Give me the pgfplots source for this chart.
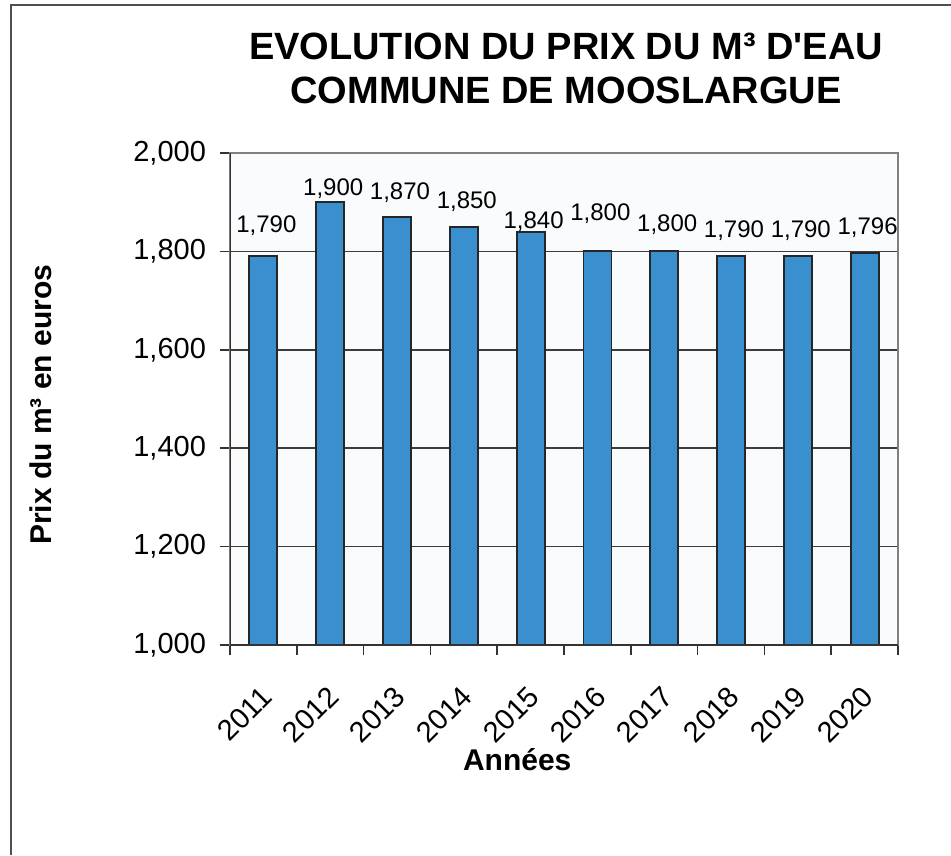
\documentclass[border=0pt]{standalone}
\usepackage{fontspec}
\setmainfont{Liberation Sans}
\usepackage{pgfplots}
\pgfplotsset{compat=1.18}
\usepackage{pgfplotstable}
\definecolor{barblue}{RGB}{58,143,206}
\definecolor{plotbg}{RGB}{249,251,252}
\definecolor{gridc}{RGB}{60,60,60}
\definecolor{framec}{RGB}{75,80,80}
\pgfplotstableread{
x y ly
0 1.790 15.4
1 1.900 6.7
2 1.870 12.2
3 1.850 12.8
4 1.840 5.0
5 1.800 19.0
6 1.800 13.5
7 1.790 13.0
8 1.790 13.0
9 1.796 13.0
}\prix
\begin{document}
\begin{tikzpicture}
\path[use as bounding box, fill=white] (-115pt,-105pt) rectangle (360.5pt,322.5pt);
\draw[line width=1.1pt, framec] (-109.5pt,-105pt) -- (-109.5pt,320pt) -- (360.5pt,320pt);
\begin{axis}[
  at={(0,0)}, anchor=south west,
  scale only axis, width=334pt, height=246pt,
  xmin=-0.5, xmax=9.5, ymin=1, ymax=2,
  axis background/.style={fill=plotbg},
  axis line style={draw=black!50, line width=0.8pt},
  xtick pos=bottom, ytick pos=left,
  tick align=outside,
  major tick length=5pt, minor tick length=5pt,
  ytick={1,1.2,1.4,1.6,1.8,2},
  scaled y ticks=false,
  yticklabel style={font=\fontsize{14.5}{17}\selectfont, xshift=-3.5pt,
    /pgf/number format/fixed, /pgf/number format/fixed zerofill,
    /pgf/number format/precision=3, /pgf/number format/use comma,
    /pgf/number format/assume math mode=true},
  ymajorgrids, major grid style={gridc, line width=0.75pt},
  major y tick style={draw=black!80, line width=0.8pt},
  xtick={0,...,9},
  xticklabels={2011,2012,2013,2014,2015,2016,2017,2018,2019,2020},
  xticklabel style={font=\fontsize{14.5}{16}\selectfont, yshift=-13pt, xshift=-2pt, rotate=45, anchor=north east, inner sep=1pt},
  major x tick style={draw=none},
  minor xtick={-0.5,0.5,...,9.5},
  minor x tick style={draw=black!80, line width=0.8pt},
  xlabel={Années},
  xlabel style={font=\bfseries\fontsize{15}{18}\selectfont, at={(axis description cs:0.43,-0.256)}, anchor=base},
  ylabel={Prix du m³ en euros},
  ylabel style={font=\bfseries\fontsize{15}{18}\selectfont, at={(axis description cs:-0.283,0.488)}, anchor=center},
]
\addplot[ybar, bar width=14pt, fill=barblue, draw=black!85, line width=0.9pt,
  visualization depends on={\thisrow{ly} \as \lyshift},
  nodes near coords={\pgfmathprintnumber[fixed,fixed zerofill,precision=3,use comma,assume math mode=true]{\pgfplotspointmeta}},
  every node near coord/.append style={font=\fontsize{12}{14}\selectfont, anchor=center, yshift=\lyshift pt, xshift=1.5pt, text=black}]
  table[x=x, y=y] {\prix};
\draw[black!80, line width=0.9pt] (rel axis cs:0,1) -- (rel axis cs:0,0) -- (rel axis cs:1,0);
\end{axis}
\node[anchor=base, font=\bfseries\fontsize{19}{22}\selectfont] at (168pt,292.5pt) {EVOLUTION DU PRIX DU M³ D\textquotesingle EAU};
\node[anchor=base, font=\bfseries\fontsize{19}{22}\selectfont] at (168pt,270.5pt) {COMMUNE DE MOOSLARGUE};
\end{tikzpicture}
\end{document}
